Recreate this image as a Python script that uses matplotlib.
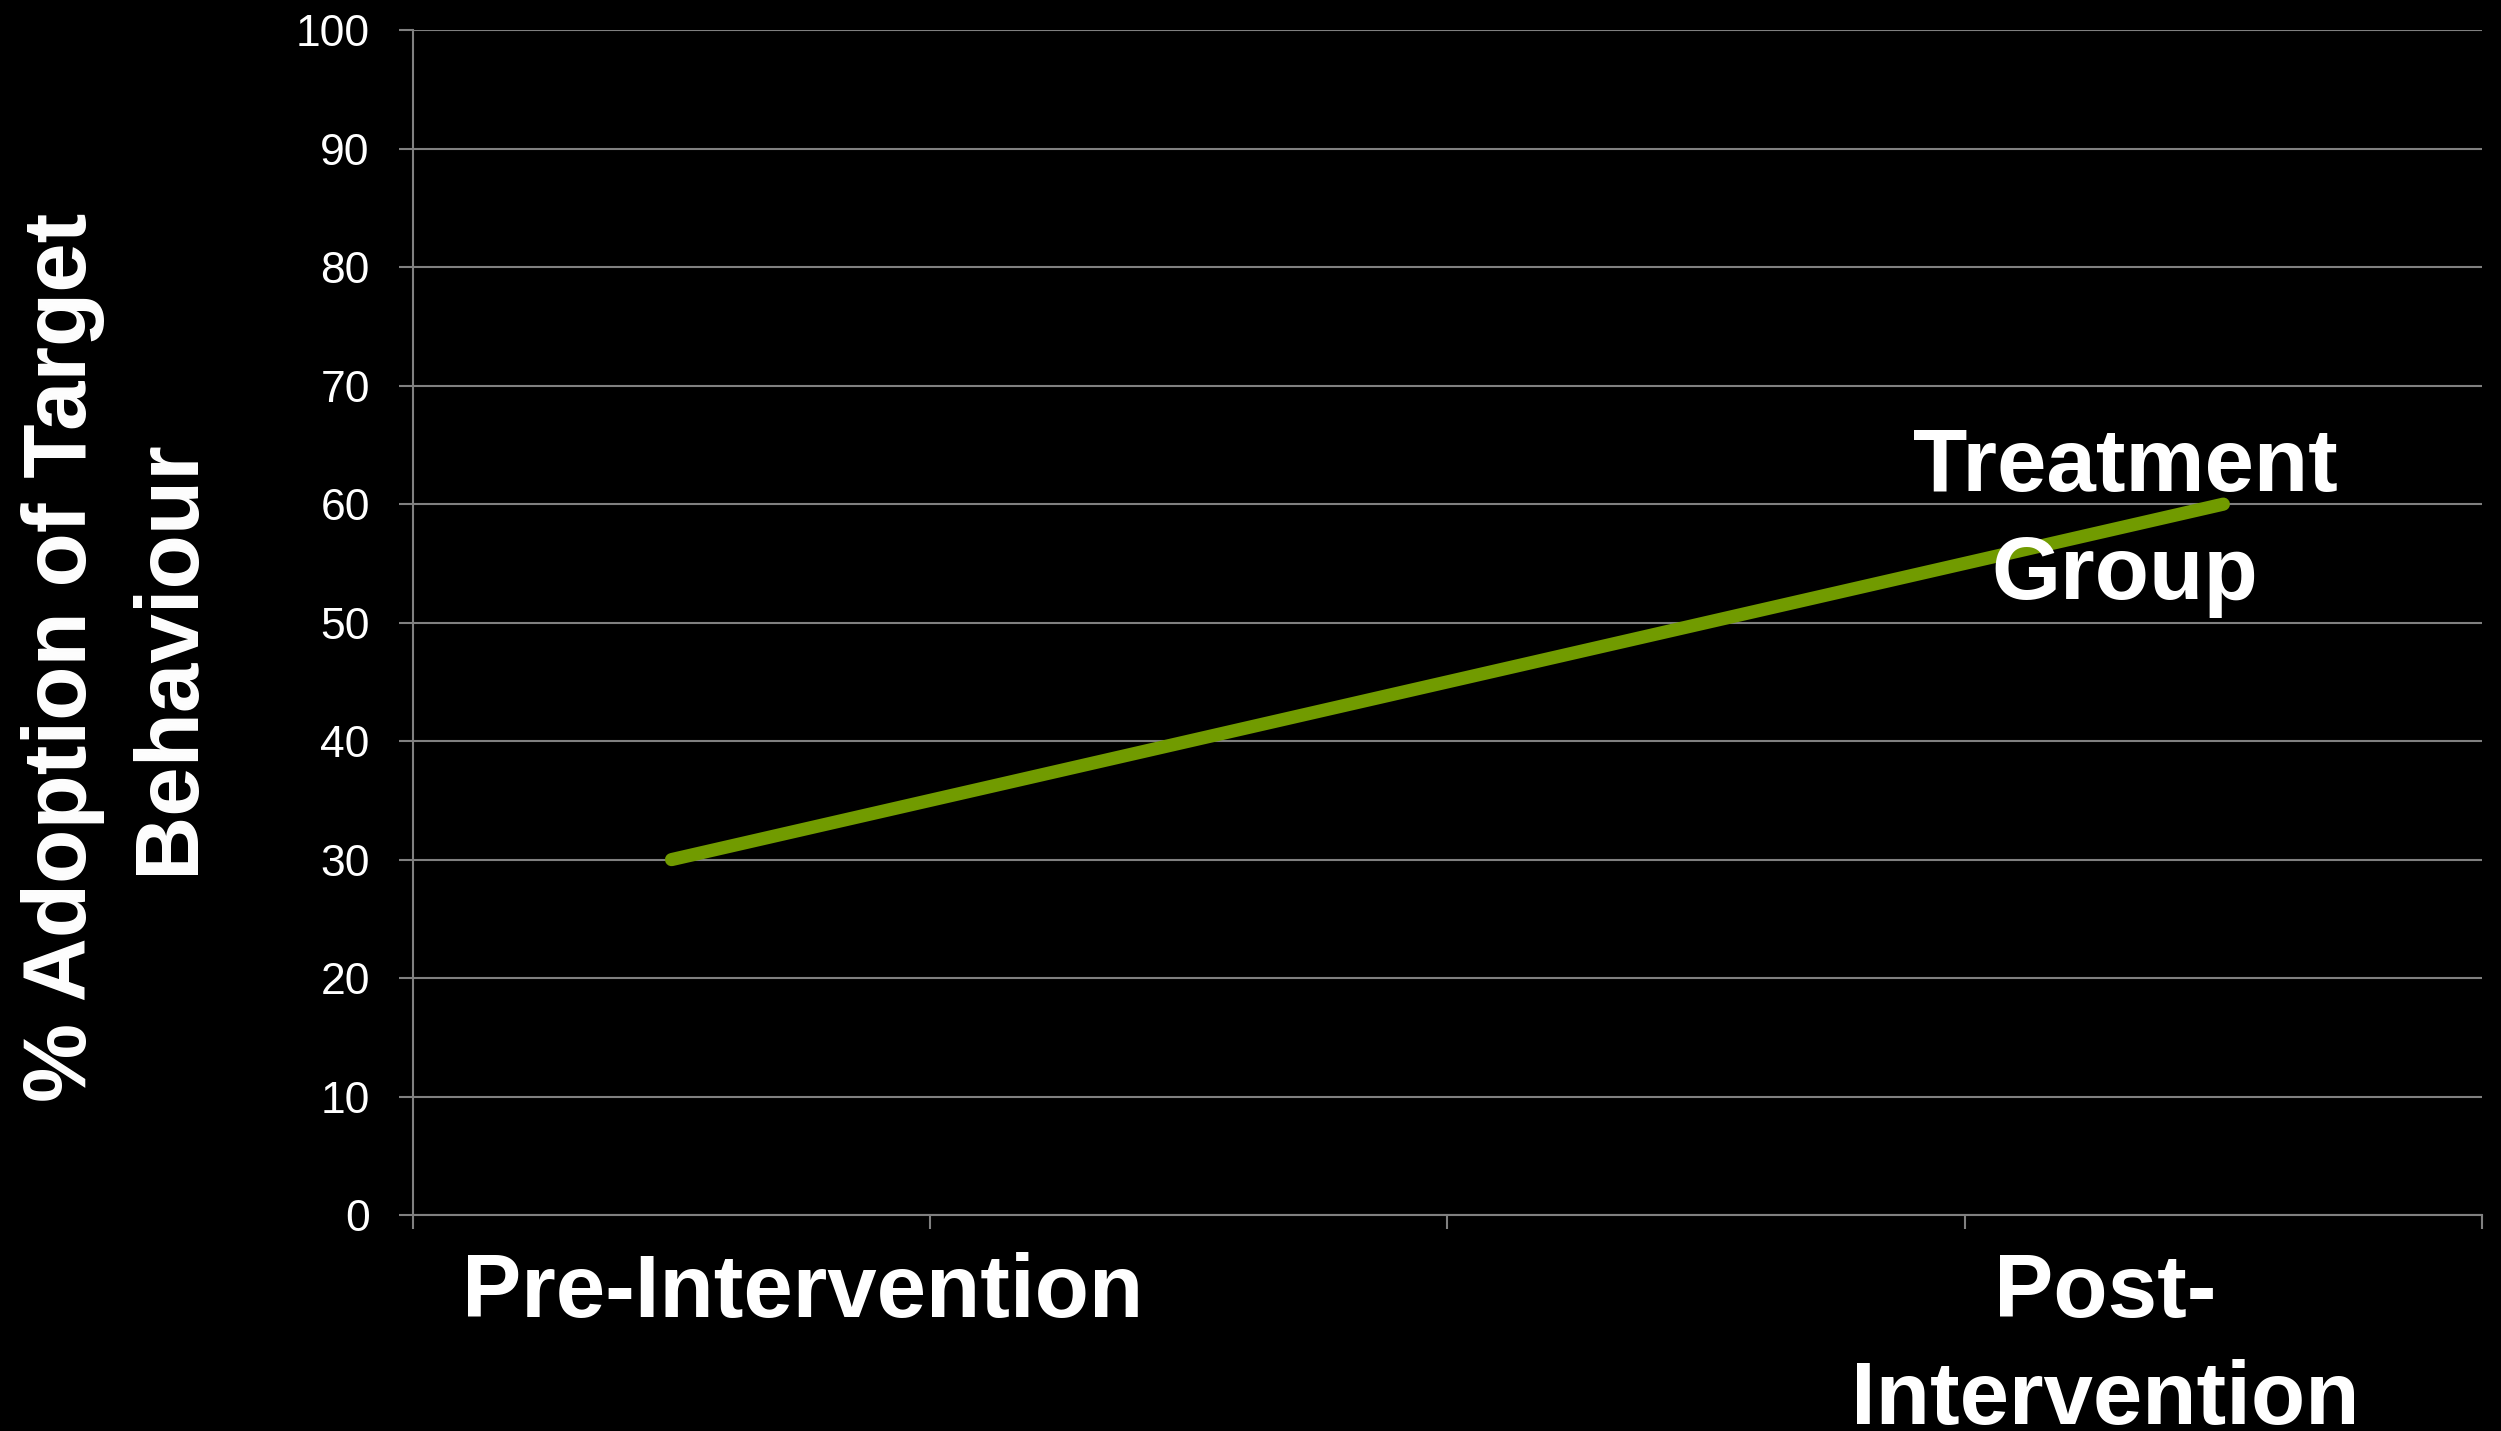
import numpy as np
import matplotlib.pyplot as plt
from matplotlib.transforms import blended_transform_factory

# Category slots on the x axis and the treatment group's adoption rates
categories = ["Pre-Intervention", "", "", "Post-Intervention"]
treatment_x = [0, 3]          # first and last category slot
treatment_pct = [30, 60]      # % adoption of target behaviour

# where the big category captions sit along the x axis (data units)
pre_label_x = 0.254
post_label_x = 2.771
series_label_x = 2.81
series_label_y = 58.5

GRID = "#808080"
GREEN = "#719b00"

plt.rcParams["font.family"] = ["Liberation Sans", "DejaVu Sans"]

fig = plt.figure(figsize=(25.01, 14.31), dpi=100, facecolor="black")
ax = fig.add_axes([0.1651, 0.1509, 0.8273, 0.828])
ax.set_facecolor("black")

# treatment group line
ax.plot(treatment_x, treatment_pct, color=GREEN, linewidth=9.5,
        solid_capstyle="round", zorder=3)

# axes limits and ticks
ax.set_xlim(-0.5, len(categories) - 0.5)
ax.set_ylim(0, 100)
ax.set_yticks(np.arange(0, 101, 10))
ax.set_xticks(np.arange(-0.5, len(categories), 1.0))
ax.set_xticklabels([])

ax.yaxis.grid(True, color=GRID, linewidth=1.5)
ax.set_axisbelow(True)

for side in ["top", "right"]:
    ax.spines[side].set_visible(False)
for side in ["left", "bottom"]:
    ax.spines[side].set_color(GRID)
    ax.spines[side].set_linewidth(1.5)

ax.tick_params(axis="y", colors=GRID, labelcolor="white", labelsize=32,
               length=10, width=1.5, pad=21)
ax.tick_params(axis="x", colors=GRID, length=10, width=1.5)

# y axis title
ax.set_ylabel("% Adoption of Target\nBehaviour", color="white",
              fontsize=64, fontweight="bold", linespacing=1.36)
ax.yaxis.set_label_coords(-0.097, 0.471)

# category captions under the axis
trans = blended_transform_factory(ax.transData, ax.transAxes)
ax.text(pre_label_x, -0.031, categories[0], transform=trans,
        ha="center", va="top", color="white", fontsize=64, fontweight="bold")
ax.text(post_label_x, -0.031, "Post-\nIntervention", transform=trans,
        ha="center", va="top", color="white", fontsize=64, fontweight="bold",
        linespacing=1.36, clip_on=False)

# series label next to the end of the line
ax.text(series_label_x, series_label_y, "Treatment\nGroup", ha="center",
        va="center", color="white", fontsize=64, fontweight="bold",
        linespacing=1.36, zorder=4)

fig.savefig("out.png", dpi=100, facecolor="black")
